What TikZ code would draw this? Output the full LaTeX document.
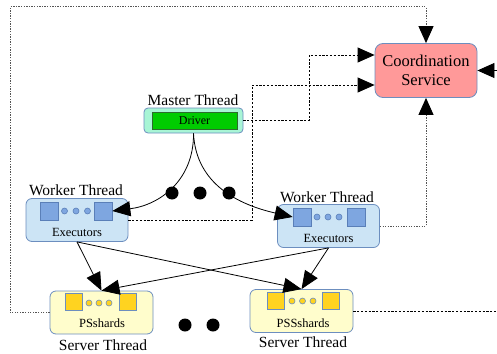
\documentclass[tikz,border=0pt]{standalone}
\usepackage{fontspec}
\setmainfont{Liberation Serif}
\newfontfamily\tnr{Liberation Serif}
\usetikzlibrary{arrows.meta,calc}
\definecolor{bordblue}{HTML}{6C8EBF}
\definecolor{coordpink}{HTML}{FF9999}
\definecolor{mint}{HTML}{A8F5D5}
\definecolor{drvgreen}{HTML}{00CC00}
\definecolor{drvborder}{HTML}{2D6B2D}
\definecolor{wfill}{HTML}{CCE4F5}
\definecolor{wsq}{HTML}{7EA6E0}
\definecolor{wsqb}{HTML}{5A7FB8}
\definecolor{sfill}{HTML}{FFFDCC}
\definecolor{ssq}{HTML}{FFD320}
\definecolor{dotgray}{HTML}{555555}
\begin{document}
\begin{tikzpicture}[x=1pt,y=-1pt,
  box/.style={draw=bordblue, rounded corners=6pt, line width=0.8pt, inner sep=0pt},
  coordbox/.style={box, fill=coordpink, rounded corners=8pt, minimum width=102pt, minimum height=54pt, align=center, font=\tnr\fontsize{16.5}{19}\selectfont},
  masterbox/.style={box, fill=mint, rounded corners=4pt, minimum width=99pt, minimum height=25pt},
  drvbox/.style={draw=drvborder, fill=drvgreen, line width=0.8pt, minimum width=85pt, minimum height=17pt, inner sep=0pt, font=\tnr\fontsize{12}{13}\selectfont},
  workerbox/.style={box, fill=wfill, minimum width=102pt, minimum height=43pt},
  serverbox/.style={box, fill=sfill, minimum width=103pt, minimum height=43pt},
  wsquare/.style={draw=wsqb, fill=wsq, line width=0.7pt, minimum size=18pt, inner sep=0pt},
  ssquare/.style={draw=bordblue, fill=ssq, line width=0.7pt, minimum size=17pt, inner sep=0pt},
  wcirc/.style={circle, draw=wsqb, fill=wsq, line width=0.6pt, minimum size=6pt, inner sep=0pt},
  scirc/.style={circle, draw=bordblue, fill=ssq, line width=0.6pt, minimum size=6pt, inner sep=0pt},
  bigdot/.style={circle, fill=black, minimum size=13pt, inner sep=0pt},
  lbl/.style={font=\tnr\fontsize{15.5}{18}\selectfont, inner sep=0pt},
  inlbl/.style={font=\tnr\fontsize{12.5}{14}\selectfont, inner sep=0pt},
  arr/.style={-{Triangle[length=18pt,width=15pt]}, line width=0.8pt},
  dashln/.style={dash pattern=on 2.2pt off 1.6pt, line width=0.8pt},
  dotln/.style={draw=dotgray, dash pattern=on 1.3pt off 1.3pt, line width=1pt},
  tipblack/.style={-{Triangle[length=17pt,width=15pt,black]}}
]
\useasboundingbox (0,0) rectangle (497,353);

% Coordination service
\node[coordbox] (coord) at (426,70.5) {Coordination\\Service};

% Master thread
\node[lbl] (mlbl) at (193,100) {Master Thread};
\node[masterbox] (master) at (193.5,120.5) {};
\node[drvbox] (driver) at (194.5,120.5) {Driver};

% Worker 1
\node[lbl] (w1lbl) at (76,190) {Worker Thread};
\node[workerbox] (w1) at (77,220) {};
\node[wsquare] (w1l) at (49,211) {};
\node[wsquare] (w1r) at (103,211) {};
\node[wcirc] (w1c1) at (64.5,211) {};
\node[wcirc] (w1c2) at (76,211) {};
\node[wcirc] (w1c3) at (87.5,211) {};
\node[inlbl] (w1t) at (77,232) {Executors};

% Worker 2
\node[lbl] (w2lbl) at (327,197) {Worker Thread};
\node[workerbox] (w2) at (328.5,226) {};
\node[wsquare] (w2l) at (302,217) {};
\node[wsquare] (w2r) at (356,217) {};
\node[wcirc] (w2c1) at (317,217) {};
\node[wcirc] (w2c2) at (328,217) {};
\node[wcirc] (w2c3) at (339,217) {};
\node[inlbl] (w2t) at (328.5,238) {Executors};

% Server 1
\node[serverbox] (s1) at (101.5,312.5) {};
\node[ssquare] (s1l) at (73.5,302) {};
\node[ssquare] (s1r) at (128,302) {};
\node[scirc] (s1c1) at (89,303) {};
\node[scirc] (s1c2) at (99,303) {};
\node[scirc] (s1c3) at (109,303) {};
\node[inlbl] (s1t) at (102,323) {PSshards};
\node[lbl] (s1lbl) at (103,345) {Server Thread};

% Server 2
\node[serverbox] (s2) at (301.5,311) {};
\node[ssquare] (s2l) at (276,301) {};
\node[ssquare] (s2r) at (330.5,301) {};
\node[scirc] (s2c1) at (292,301) {};
\node[scirc] (s2c2) at (302.5,301) {};
\node[scirc] (s2c3) at (313,301) {};
\node[inlbl] (s2t) at (303,323) {PSSshards};
\node[lbl] (s2lbl) at (303,342) {Server Thread};

% ellipsis dots
\node[bigdot] (d1) at (172,193) {};
\node[bigdot] (d2) at (200,193) {};
\node[bigdot] (d3) at (229,193) {};
\node[bigdot] (d4) at (185,325) {};
\node[bigdot] (d5) at (213,325) {};

% corner coordinates
\coordinate (cL) at (10,7);
\coordinate (j1) at (309,55);
\coordinate (j2) at (252,85);
\coordinate (redge) at (497,0);
\coordinate (rin) at (497,70.5);

% driver to workers
\draw[arr] (master.south) .. controls (194,180) and (160,205) .. (w1r.east);
\draw[arr] (master.south) .. controls (196,185) and (240,205) .. (w2l.west);

% workers to servers
\draw[arr] (w1.south) -- (s1.north);
\draw[arr] (w1.south) -- (s2.north);
\draw[arr] (w2.south) -- (s1.north);
\draw[arr] (w2.south) -- (s2.north);

% coordination links
\draw[dotln, tipblack] (s1.west) -| (cL) -| (coord.north);
\draw[dashln, tipblack] (master.east) -| (j1) -- (j1 -| coord.west);
\draw[dashln, tipblack] (w1.east) -| (j2) -- (j2 -| coord.west);
\draw[dotln, tipblack] (w2.east) -| (coord.south);
\draw[dashln] (s2.east) -- (s2.east -| redge);
\draw[tipblack, line width=0.8pt] (rin) -- (coord.east);
\end{tikzpicture}
\end{document}
